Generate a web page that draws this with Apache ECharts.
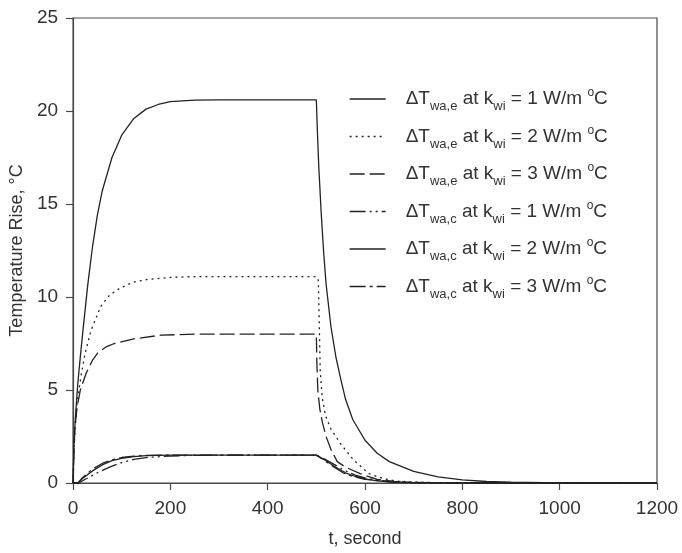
<!DOCTYPE html>
<html>
<head>
<meta charset="utf-8">
<script src="https://cdn.jsdelivr.net/npm/echarts@6/dist/echarts.min.js"></script>
<style>
html,body{margin:0;padding:0;background:#fff;}
#chart{width:682px;height:553px;}
</style>
</head>
<body>
<div id="chart"></div>
<script>
// ---- data: [t (s), temperature rise (°C)] ----
const eK1 = [[0,0],[2,2.2],[5,3.6],[10,5.4],[15,6.8],[20,8.1],[30,10.6],[40,12.7],[50,14.4],[60,15.7],[80,17.5],[100,18.7],[125,19.6],[150,20.1],[175,20.35],[200,20.5],[250,20.58],[300,20.6],[400,20.6],[500,20.6],[502,19.0],[505,17.0],[510,14.5],[515,12.4],[520,10.7],[530,8.4],[540,6.8],[550,5.6],[560,4.5],[575,3.4],[600,2.3],[625,1.6],[650,1.15],[700,0.62],[750,0.33],[800,0.17],[850,0.08],[900,0.04],[1000,0.01],[1100,0],[1200,0]];
const eK2 = [[0,0],[2,1.8],[4,2.9],[8,4.2],[16,5.7],[25,7.0],[37,8.2],[57,9.5],[75,10.1],[98,10.5],[125,10.8],[154,10.95],[200,11.05],[250,11.1],[500,11.1],[504,10.9],[506,8.5],[508,6.0],[512,4.6],[519,3.6],[530,2.9],[550,2.1],[576,1.25],[608,0.5],[640,0.22],[665,0.1],[700,0.05],[750,0.02],[800,0],[1200,0]];
const eK3 = [[0,0],[2,1.8],[4,3.0],[8,4.0],[15,5.0],[27,5.9],[40,6.6],[51,7.0],[70,7.35],[85,7.5],[125,7.75],[181,7.95],[250,8.0],[500,8.0],[501,6.5],[503,5.0],[507,4.0],[512,3.3],[520,2.5],[530,1.8],[543,1.15],[560,0.85],[590,0.5],[625,0.2],[660,0.08],[700,0.02],[800,0],[1200,0]];
const cK1 = [[0,0],[12,0],[25,0.2],[50,0.55],[75,0.85],[100,1.1],[125,1.27],[150,1.37],[200,1.45],[250,1.49],[300,1.5],[500,1.5],[520,1.25],[540,0.95],[560,0.65],[580,0.42],[600,0.28],[625,0.16],[650,0.09],[700,0.03],[800,0],[1200,0]];
const cK2 = [[0,0],[10,0],[20,0.25],[40,0.65],[60,0.97],[80,1.2],[100,1.33],[125,1.42],[150,1.47],[200,1.5],[500,1.5],[520,1.2],[540,0.85],[560,0.55],[580,0.35],[600,0.22],[625,0.12],[650,0.06],[700,0.02],[800,0],[1200,0]];
const cK3 = [[0,0],[10,0],[20,0.3],[40,0.75],[60,1.05],[80,1.25],[100,1.37],[125,1.44],[150,1.48],[200,1.5],[500,1.5],[520,1.15],[540,0.8],[555,0.55],[575,0.35],[600,0.2],[650,0.06],[700,0.01],[800,0],[1200,0]];

const seriesData = [eK1, eK2, eK3, cK1, cK2, cK3];
const subLabels = ['wa,e', 'wa,e', 'wa,e', 'wa,c', 'wa,c', 'wa,c'];
const kValues = [1, 2, 3, 1, 2, 3];
const seriesNames = subLabels.map((s, i) => 'ΔT' + s + ' at kwi = ' + kValues[i] + ' W/m °C');
const dashTypes = ['solid', [2, 4], [15, 5], [16, 4, 2, 4, 2, 4], 'solid', [16, 4, 3, 4]];

const xTicks = { min: 0, max: 1200, interval: 200 };
const yTicks = { min: 0, max: 25, interval: 5 };

const FONT = "'Liberation Sans', Arial, sans-serif";
const INK = '#333';
const AX = '#4a4a4a';

const chart = echarts.init(document.getElementById('chart'), null, { renderer: 'canvas' });

const axisCommon = {
  type: 'value',
  axisLine: { show: true, lineStyle: { color: AX, width: 1.2 } },
  axisTick: { show: true, inside: false, length: 7, lineStyle: { color: AX, width: 1.2 } },
  splitLine: { show: false },
  nameLocation: 'middle',
  nameTextStyle: { fontSize: 18, color: INK, fontFamily: FONT }
};

chart.setOption({
  backgroundColor: '#fff',
  animation: false,
  grid: { left: 72, right: 25, top: 18, bottom: 65, show: true, borderColor: AX, borderWidth: 1.2, backgroundColor: 'transparent' },
  xAxis: Object.assign({}, axisCommon, {
    min: xTicks.min, max: xTicks.max, interval: xTicks.interval,
    name: 't, second', nameGap: 47,
    axisLabel: { fontSize: 19, color: INK, margin: 16, fontFamily: FONT, formatter: v => String(v) }
  }),
  yAxis: Object.assign({}, axisCommon, {
    min: yTicks.min, max: yTicks.max, interval: yTicks.interval,
    name: 'Temperature Rise, °C', nameGap: 34,
    axisLabel: { fontSize: 19, color: INK, margin: 15, fontFamily: FONT, formatter: v => String(v) }
  }),
  legend: {
    orient: 'vertical', left: 349, top: 85, padding: 0,
    itemWidth: 36, itemHeight: 14, itemGap: 9.5,
    data: seriesNames,
    itemStyle: { opacity: 0, borderWidth: 0 },
    lineStyle: { width: 1.3 },
    formatter: function (name) {
      const i = seriesNames.indexOf(name);
      return '{g| }{m|ΔT}{s|' + subLabels[i] + '}{m| at k}{s|wi}{m| = ' + kValues[i] + ' W/m }{p|o}{m|C}';
    },
    textStyle: {
      color: INK, fontFamily: FONT,
      rich: {
        g: { width: 15 },
        m: { fontSize: 19, lineHeight: 28, verticalAlign: 'middle', fontFamily: FONT, color: INK },
        s: { fontSize: 13, lineHeight: 28, verticalAlign: 'bottom', fontFamily: FONT, color: INK },
        p: { fontSize: 12, lineHeight: 28, verticalAlign: 'top', padding: [2, 0, 0, 0], fontFamily: FONT, color: INK }
      }
    }
  },
  series: seriesData.map((d, i) => ({
    name: seriesNames[i],
    type: 'line',
    data: d,
    symbol: 'none',
    smooth: false,
    lineStyle: { color: '#222', width: 1.3, type: dashTypes[i] },
    itemStyle: { color: '#222' },
    z: 2
  }))
});
</script>
</body>
</html>
